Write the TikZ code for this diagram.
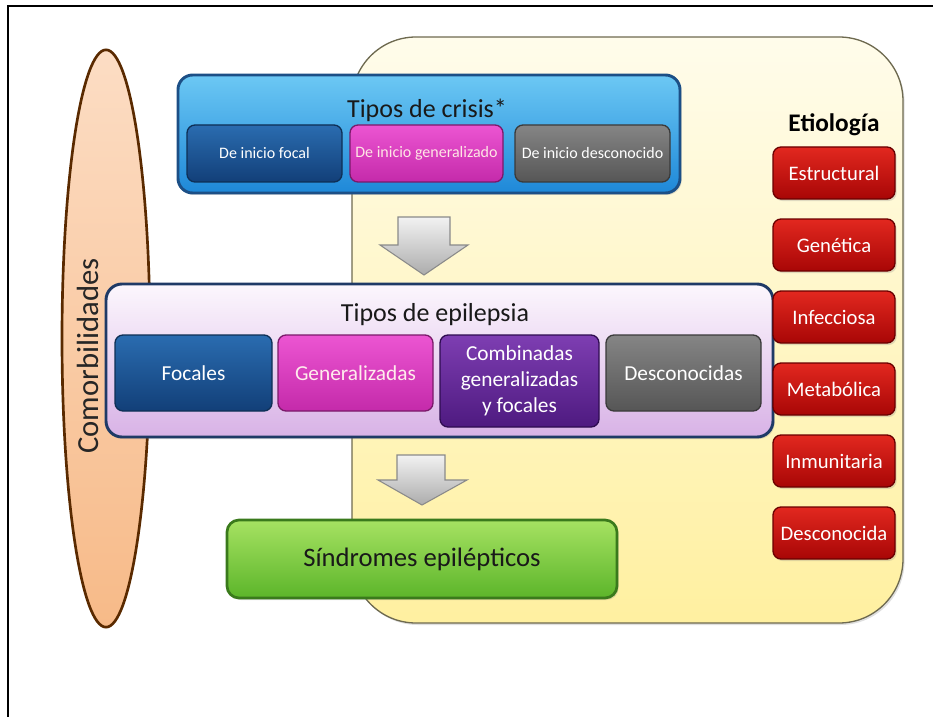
\documentclass[tikz,border=0pt]{standalone}
\usepackage{fontspec}
\setmainfont{Carlito}
\usetikzlibrary{shapes.geometric,shadows}
\definecolor{yelT}{HTML}{FFFCEB}
\definecolor{yelB}{HTML}{FFF0A0}
\definecolor{yelD}{HTML}{6E6A50}
\definecolor{bluT}{HTML}{6CC8F4}
\definecolor{bluB}{HTML}{1E88D8}
\definecolor{bluD}{HTML}{1C4F86}
\definecolor{dbT}{HTML}{2A6CB0}
\definecolor{dbB}{HTML}{123F78}
\definecolor{dbD}{HTML}{0E2F55}
\definecolor{mgT}{HTML}{EC55D2}
\definecolor{mgB}{HTML}{C42AAA}
\definecolor{mgD}{HTML}{7A1A6A}
\definecolor{gyT}{HTML}{858585}
\definecolor{gyB}{HTML}{565656}
\definecolor{gyD}{HTML}{3A3A3A}
\definecolor{puT}{HTML}{7E3EB2}
\definecolor{puB}{HTML}{4E1A80}
\definecolor{puD}{HTML}{2E0C50}
\definecolor{lvT}{HTML}{FCF7FD}
\definecolor{lvB}{HTML}{D8B2E6}
\definecolor{lvD}{HTML}{1F3A66}
\definecolor{grT}{HTML}{A6E262}
\definecolor{grB}{HTML}{5CB52A}
\definecolor{grD}{HTML}{3A7A1C}
\definecolor{rdT}{HTML}{E2281F}
\definecolor{rdB}{HTML}{A80606}
\definecolor{rdD}{HTML}{6A0000}
\definecolor{orT}{HTML}{FCDDC4}
\definecolor{orB}{HTML}{F7BA88}
\definecolor{brn}{HTML}{5A2A00}
\definecolor{arT}{HTML}{F2F2F2}
\definecolor{arB}{HTML}{ACACAC}
\definecolor{arD}{HTML}{8A8A8A}
\tikzset{
  x=0.75pt, y=-0.75pt,
  shad/.style={drop shadow={opacity=0.25, shadow xshift=1.2pt, shadow yshift=-1.5pt}},
  subbox/.style={rectangle, rounded corners=6pt, line width=1pt, text=white, align=center, inner sep=2pt},
  crisbox/.style={subbox, minimum height=42.75pt, font=\fontsize{12}{14}\selectfont},
  epibox/.style={subbox, minimum height=57pt, font=\fontsize{16}{19}\selectfont},
  etibox/.style={subbox, shad, minimum width=91.5pt, minimum height=39pt, top color=rdT, bottom color=rdB, draw=rdD, font=\fontsize{15.5}{18}\selectfont},
  blockarrow/.style={top color=arT, bottom color=arB, draw=arD, line width=0.8pt},
}
\begin{document}
\begin{tikzpicture}
\useasboundingbox (0,0) rectangle (933,717);
% frame
\draw[line width=1.3pt] (933,6) -- (8,6) -- (8,717);
% yellow etiology background
\node[rectangle, rounded corners=48pt, minimum width=413.25pt, minimum height=439.5pt, top color=yelT, bottom color=yelB, draw=yelD, line width=1pt, shad] (yel) at (627.5,330) {};
% comorbidities ellipse
\node[ellipse, minimum width=66pt, minimum height=433pt, inner sep=0pt, top color=orT, bottom color=orB, draw=brn, line width=2pt] (como) at (106,338.5) {};
\node[rotate=90, font=\fontsize{23}{26}\selectfont, text=black!85] (comotxt) at (88,356) {Comorbilidades};
% crisis box
\node[rectangle, rounded corners=11pt, minimum width=376.5pt, minimum height=88.5pt, top color=bluT, bottom color=bluB, draw=bluD, line width=2.2pt, shad] (cris) at (429,134) {};
\node[font=\fontsize{19.5}{22}\selectfont, text=black!90] (cristit) at (427,110) {Tipos de crisis*};
\node[crisbox, minimum width=116.25pt, top color=dbT, bottom color=dbB, draw=dbD] (cfocal) at (264.5,153.5) {De inicio focal};
\node[crisbox, minimum width=114.75pt, top color=mgT, bottom color=mgB, draw=mgD, text=pink!40] (cgen) at (426.5,153.5) {De inicio generalizado};
\node[crisbox, minimum width=116.25pt, top color=gyT, bottom color=gyB, draw=gyD] (cdesc) at (592.5,153.5) {De inicio desconocido};
% arrow 1
\draw[blockarrow] (398,217) -- (450,217) -- (450,245) -- (468,245) -- (424,275) -- (380,245) -- (398,245) -- cycle;
% epilepsy box
\node[rectangle, rounded corners=12pt, minimum width=500.25pt, minimum height=114.75pt, top color=lvT, bottom color=lvB, draw=lvD, line width=2.2pt, shad] (epi) at (439.5,360.5) {};
\node[font=\fontsize{19.5}{22}\selectfont, text=black!90] (epitit) at (435,315) {Tipos de epilepsia};
\node[epibox, minimum width=117.75pt, top color=dbT, bottom color=dbB, draw=dbD] (efoc) at (193.5,373) {Focales};
\node[epibox, minimum width=116.25pt, top color=mgT, bottom color=mgB, draw=mgD, text=pink!30] (egen) at (355.5,373) {Generalizadas};
\node[epibox, minimum width=119.25pt, minimum height=69pt, top color=puT, bottom color=puB, draw=puD, font=\fontsize{16}{19.5}\selectfont] (ecomb) at (519.5,381) {Combinadas\\generalizadas\\y focales};
\node[epibox, minimum width=116.25pt, top color=gyT, bottom color=gyB, draw=gyD] (edesc) at (683.5,373) {Desconocidas};
% arrow 2
\draw[blockarrow] (397,455) -- (445,455) -- (445,480) -- (467,480) -- (422,505) -- (378,480) -- (397,480) -- cycle;
% syndromes
\node[rectangle, rounded corners=9pt, minimum width=292.5pt, minimum height=58.5pt, top color=grT, bottom color=grB, draw=grD, line width=2pt, shad, font=\fontsize{20}{24}\selectfont, text=black!90] (sind) at (422,559) {Síndromes epilépticos};
% etiology
\node[font=\bfseries\fontsize{19}{22}\selectfont] (etit) at (834,125) {Etiología};
\node[etibox] (e1) at (834,173) {Estructural};
\node[etibox] (e2) at (834,245) {Genética};
\node[etibox] (e3) at (834,317) {Infecciosa};
\node[etibox] (e4) at (834,389) {Metabólica};
\node[etibox] (e5) at (834,461) {Inmunitaria};
\node[etibox] (e6) at (834,533) {Desconocida};
\end{tikzpicture}
\end{document}
